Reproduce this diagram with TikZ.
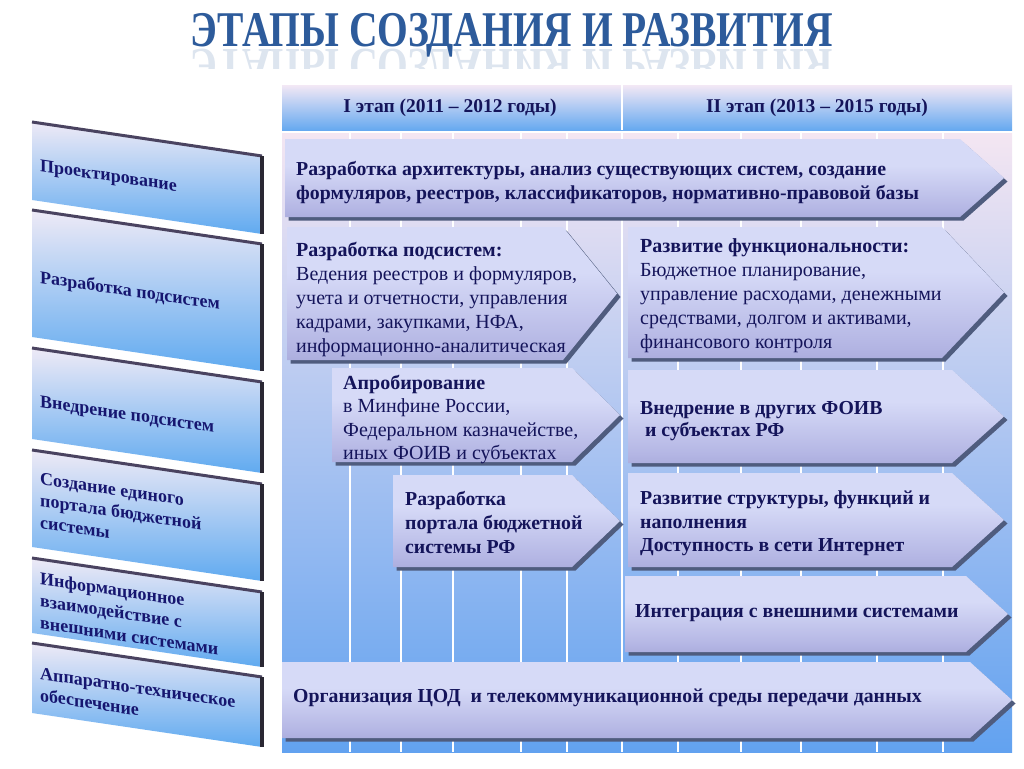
\documentclass[tikz,border=0pt]{standalone}
\usepackage{fontspec}
\setmainfont{Liberation Serif}
\definecolor{navy}{HTML}{14145A}
\definecolor{sidenavy}{HTML}{161670}
\definecolor{titleblue}{HTML}{2D5B9B}
\definecolor{arrtopc}{HTML}{B9C4BC}
\definecolor{arrmid}{HTML}{D6DAF7}
\definecolor{arrlow}{HTML}{B4B6E4}
\definecolor{arrbot}{HTML}{8587C0}
\definecolor{shadowc}{HTML}{4F5C7E}
\definecolor{hdtop}{HTML}{F3E8F5}
\definecolor{hdbot}{HTML}{66A9F0}
\definecolor{bodytop}{HTML}{F4E6F2}
\definecolor{bodymid}{HTML}{B4D0F2}
\definecolor{bodybot}{HTML}{62A2F0}
\definecolor{sidetopc}{HTML}{EEEAF6}
\definecolor{sidebotc}{HTML}{60AAF0}
\definecolor{sideline}{HTML}{4A4360}
\definecolor{sideedge}{HTML}{2A2733}
\pgfdeclareverticalshading{arrshade}{100bp}{color(0bp)=(arrbot); color(30bp)=(arrlow); color(58bp)=(arrmid); color(90bp)=(arrmid); color(97bp)=(arrtopc); color(100bp)=(arrtopc)}
\tikzset{
  arr/.style={shading=arrshade},
  arrtxt/.style={text=navy, align=left, inner sep=0pt, font=\fontsize{20}{24}\selectfont},
  boldtxt/.style={arrtxt, font=\fontsize{19.8}{24}\selectfont\bfseries},
  hdtxt/.style={text=navy, inner sep=0pt, font=\fontsize{19.5}{22}\selectfont\bfseries},
  sidetxt/.style={text=sidenavy, align=left, inner sep=0pt, yslant=-0.148, font=\fontsize{18}{22}\selectfont\bfseries},
  gridline/.style={white, line width=1.2pt},
}
\newcommand\stagearrow[5]{%
  \fill[shadowc, shift={(3.5,3.5)}] (#1,#2) -- (#3,#2) -- (#4,{(#2+#5)/2}) -- (#3,#5) -- (#1,#5) -- cycle;
  \shade[arr] (#1,#2) -- (#3,#2) -- (#4,{(#2+#5)/2}) -- (#3,#5) -- (#1,#5) -- cycle;
}
\newcommand\sidepanel[2]{%
  \shade[top color=sidetopc, bottom color=sidebotc] (32,#1) -- (262,{#1+34}) -- (262,{#2+34}) -- (32,#2) -- cycle;
  \draw[sideline, line width=3pt] (32,#1) -- (262,{#1+34});
  \draw[sideedge, line width=4pt] (262,{#1+34}) -- (262,{#2+34});
}
\begin{document}
\begin{tikzpicture}[x=1pt,y=-1pt]
\useasboundingbox (0,0) rectangle (1024,768);
% title
\node[font=\fontsize{50}{50}\selectfont\bfseries, text=titleblue, xscale=0.79, anchor=base, inner sep=0pt] (title) at (512,47) {ЭТАПЫ СОЗДАНИЯ И РАЗВИТИЯ};
\begin{scope}
  \clip (150,49) rectangle (880,68);
  \node[font=\fontsize{50}{50}\selectfont\bfseries, text=titleblue, xscale=0.79, yscale=-1, anchor=base, inner sep=0pt, opacity=0.16] (titlerefl) at (512,49) {ЭТАПЫ СОЗДАНИЯ И РАЗВИТИЯ};
\end{scope}
% background
\shade[top color=hdtop, bottom color=hdbot] (282,85) rectangle (1012,130);
\draw[gridline] (622,85) -- (622,130);
\shade[top color=bodytop, middle color=bodymid, bottom color=bodybot] (282,133) rectangle (1012,752);
\foreach \gx in {350,401,453,521,567,622,678,741,801,877,943}
  \draw[gridline] (\gx,133) -- (\gx,752);
\node[hdtxt] (h1) at (450,108) {I этап (2011 – 2012 годы)};
\node[hdtxt] (h2) at (817,108) {II этап (2013 – 2015 годы)};
% left side panels
\sidepanel{122}{200}
\sidepanel{210}{337}
\sidepanel{348}{439}
\sidepanel{450}{547}
\sidepanel{558}{633}
\sidepanel{643}{713}
\node[sidetxt, anchor=base west] (s1) at (40,171) {Проектирование};
\node[sidetxt, anchor=base west] (s2) at (40,283) {Разработка подсистем};
\node[sidetxt, anchor=base west] (s3) at (40,407) {Внедрение подсистем};
\node[sidetxt, anchor=north west] (s4) at (40,472) {Создание единого\\портала бюджетной\\системы};
\node[sidetxt, anchor=north west] (s5) at (40,572) {Информационное\\взаимодействие с\\внешними системами};
\node[sidetxt, anchor=north west] (s6) at (40,667) {Аппаратно-техническое\\обеспечение};
% arrows
\stagearrow{285}{139}{960}{1004}{217}
\stagearrow{287}{227}{563}{617}{360}
\stagearrow{628}{227}{942}{1004}{358}
\stagearrow{332}{368}{572}{620}{462}
\stagearrow{393}{475}{572}{620}{567}
\stagearrow{628}{370}{952}{1004}{463}
\stagearrow{628}{473}{952}{1004}{567}
\stagearrow{625}{576}{966}{1008}{652}
\stagearrow{282}{662}{970}{1012}{738}
% arrow texts
\node[boldtxt, anchor=north west] (a1) at (296,161) {Разработка архитектуры, анализ существующих систем, создание\\формуляров, реестров, классификаторов, нормативно-правовой базы};
\node[arrtxt, anchor=north west] (a2) at (296,242) {\textbf{Разработка подсистем:}\\Ведения реестров и формуляров,\\учета и отчетности, управления\\кадрами, закупками, НФА,\\информационно-аналитическая};
\node[arrtxt, anchor=north west] (a3) at (640,238) {\textbf{Развитие функциональности:}\\Бюджетное планирование,\\управление расходами, денежными\\средствами, долгом и активами,\\финансового контроля};
\node[arrtxt, anchor=north west, font=\fontsize{20}{23.3}\selectfont] (a4) at (343,375) {\textbf{Апробирование}\\в Минфине России,\\Федеральном казначействе,\\иных ФОИВ и субъектах};
\node[boldtxt, anchor=north west] (a5) at (405,491) {Разработка\\портала бюджетной\\системы РФ};
\node[boldtxt, anchor=north west, font=\fontsize{19.8}{22}\selectfont\bfseries] (a6) at (640,401) {Внедрение в других ФОИВ\\\ и субъектах РФ};
\node[boldtxt, anchor=north west, font=\fontsize{19.8}{23.5}\selectfont\bfseries] (a7) at (640,491) {Развитие структуры, функций и\\наполнения\\Доступность в сети Интернет};
\node[boldtxt, anchor=west] (a8) at (635,613) {Интеграция с внешними системами};
\node[boldtxt, anchor=west] (a9) at (293,698) {Организация ЦОД\ \ и телекоммуникационной среды передачи данных};
\end{tikzpicture}
\end{document}
